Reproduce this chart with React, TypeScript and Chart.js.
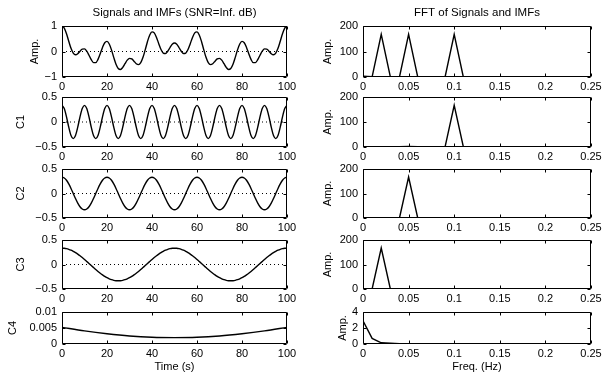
import React, { useEffect, useRef } from 'react';
import { Chart, registerables } from 'chart.js';

Chart.register(...registerables);

// ---------------- data ----------------
const TIME = [
  0, 1, 2, 3, 4, 5, 6, 7, 8, 9, 10, 11, 12, 13, 14, 15, 16, 17, 18, 19, 20,
  21, 22, 23, 24, 25, 26, 27, 28, 29, 30, 31, 32, 33, 34, 35, 36, 37, 38, 39, 40,
  41, 42, 43, 44, 45, 46, 47, 48, 49, 50, 51, 52, 53, 54, 55, 56, 57, 58, 59, 60,
  61, 62, 63, 64, 65, 66, 67, 68, 69, 70, 71, 72, 73, 74, 75, 76, 77, 78, 79, 80,
  81, 82, 83, 84, 85, 86, 87, 88, 89, 90, 91, 92, 93, 94, 95, 96, 97, 98, 99, 100,
];

const SIGNAL = [
  1.004, 0.918, 0.696, 0.403, 0.125, -0.063, -0.130, -0.087, 0.012, 0.095,
  0.103, 0.015, -0.146, -0.320, -0.435, -0.436, -0.309, -0.086, 0.161, 0.344,
  0.396, 0.295, 0.063, -0.230, -0.498, -0.666, -0.704, -0.622, -0.477, -0.339,
  -0.270, -0.290, -0.379, -0.478, -0.515, -0.436, -0.229, 0.072, 0.394, 0.649,
  0.769, 0.729, 0.552, 0.305, 0.076, -0.063, -0.081, 0.011, 0.156, 0.284,
  0.333,
  0.284, 0.156, 0.011, -0.081, -0.063, 0.076, 0.305, 0.552, 0.729, 0.769,
  0.649, 0.394, 0.072, -0.229, -0.436, -0.515, -0.478, -0.379, -0.290, -0.270,
  -0.339, -0.477, -0.622, -0.704, -0.666, -0.498, -0.230, 0.063, 0.295, 0.396,
  0.344, 0.161, -0.086, -0.309, -0.436, -0.435, -0.320, -0.146, 0.015, 0.103,
  0.095, 0.012, -0.087, -0.130, -0.063, 0.125, 0.403, 0.696, 0.918, 1.004,
];

const IMF1 = [
  0.333, 0.270, 0.103, -0.103, -0.270, -0.333, -0.270, -0.103, 0.103, 0.270,
  0.333, 0.270, 0.103, -0.103, -0.270, -0.333, -0.270, -0.103, 0.103, 0.270,
  0.333, 0.270, 0.103, -0.103, -0.270, -0.333, -0.270, -0.103, 0.103, 0.270,
  0.333, 0.270, 0.103, -0.103, -0.270, -0.333, -0.270, -0.103, 0.103, 0.270,
  0.333, 0.270, 0.103, -0.103, -0.270, -0.333, -0.270, -0.103, 0.103, 0.270,
  0.333, 0.270, 0.103, -0.103, -0.270, -0.333, -0.270, -0.103, 0.103, 0.270,
  0.333, 0.270, 0.103, -0.103, -0.270, -0.333, -0.270, -0.103, 0.103, 0.270,
  0.333, 0.270, 0.103, -0.103, -0.270, -0.333, -0.270, -0.103, 0.103, 0.270,
  0.333, 0.270, 0.103, -0.103, -0.270, -0.333, -0.270, -0.103, 0.103, 0.270,
  0.333, 0.270, 0.103, -0.103, -0.270, -0.333, -0.270, -0.103, 0.103, 0.270,
  0.333,
];

const IMF2 = [
  0.333, 0.317, 0.270, 0.196, 0.103, 0, -0.103, -0.196, -0.270, -0.317,
  -0.333, -0.317, -0.270, -0.196, -0.103, 0, 0.103, 0.196, 0.270, 0.317,
  0.333, 0.317, 0.270, 0.196, 0.103, 0, -0.103, -0.196, -0.270, -0.317,
  -0.333, -0.317, -0.270, -0.196, -0.103, 0, 0.103, 0.196, 0.270, 0.317,
  0.333, 0.317, 0.270, 0.196, 0.103, 0, -0.103, -0.196, -0.270, -0.317,
  -0.333, -0.317, -0.270, -0.196, -0.103, 0, 0.103, 0.196, 0.270, 0.317,
  0.333, 0.317, 0.270, 0.196, 0.103, 0, -0.103, -0.196, -0.270, -0.317,
  -0.333, -0.317, -0.270, -0.196, -0.103, 0, 0.103, 0.196, 0.270, 0.317,
  0.333, 0.317, 0.270, 0.196, 0.103, 0, -0.103, -0.196, -0.270, -0.317,
  -0.333, -0.317, -0.270, -0.196, -0.103, 0, 0.103, 0.196, 0.270, 0.317,
  0.333,
];

const IMF3 = [
  0.333, 0.331, 0.323, 0.310, 0.292, 0.270, 0.243, 0.212, 0.179, 0.142,
  0.103, 0.062, 0.021, -0.021, -0.062, -0.103, -0.142, -0.179, -0.212, -0.243,
  -0.270, -0.292, -0.310, -0.323, -0.331, -0.333, -0.331, -0.323, -0.310, -0.292,
  -0.270, -0.243, -0.212, -0.179, -0.142, -0.103, -0.062, -0.021, 0.021, 0.062,
  0.103, 0.142, 0.179, 0.212, 0.243, 0.270, 0.292, 0.310, 0.323, 0.331,
  0.333, 0.331, 0.323, 0.310, 0.292, 0.270, 0.243, 0.212, 0.179, 0.142,
  0.103, 0.062, 0.021, -0.021, -0.062, -0.103, -0.142, -0.179, -0.212, -0.243,
  -0.270, -0.292, -0.310, -0.323, -0.331, -0.333, -0.331, -0.323, -0.310, -0.292,
  -0.270, -0.243, -0.212, -0.179, -0.142, -0.103, -0.062, -0.021, 0.021, 0.062,
  0.103, 0.142, 0.179, 0.212, 0.243, 0.270, 0.292, 0.310, 0.323, 0.331,
  0.333,
];

const IMF4_TIME = [0, 10, 20, 30, 40, 50, 60, 70, 80, 90, 100];
const IMF4 = [0.0052, 0.0041, 0.0032, 0.0025, 0.0021, 0.0020, 0.0021, 0.0025, 0.0032, 0.0041, 0.0052];

const FREQ = [
  0, 0.01, 0.02, 0.03, 0.04, 0.05, 0.06, 0.07, 0.08, 0.09, 0.1, 0.11, 0.12,
  0.13, 0.14, 0.15, 0.16, 0.17, 0.18, 0.19, 0.2, 0.21, 0.22, 0.23, 0.24, 0.25,
];
const FFT_SIGNAL = [2.9, 0.7, 167, 0.2, 0.1, 167, 0.1, 0, 0, 0, 167, 0, 0, 0, 0, 0, 0, 0, 0, 0, 0, 0, 0, 0, 0, 0];
const FFT_C1 = [0, 0, 0, 0.3, 1, 2.5, 1, 1, 1, 0.5, 167, 1, 0.5, 0, 0.5, 1.5, 1, 0, 0, 0, 0, 0, 0, 0, 0, 0];
const FFT_C2 = [0, 0, 0, 0, 0, 167, 0, 0, 0, 0, 0, 0, 0, 0, 0, 0, 0, 0, 0, 0, 0, 0, 0, 0, 0, 0];
const FFT_C3 = [0, 0, 167, 0, 0, 0, 0, 0, 0, 0, 0, 0, 0, 0, 0, 0, 0, 0, 0, 0, 0, 0, 0, 0, 0, 0];
const FFT_C4 = [2.9, 0.7, 0.15, 0.1, 0.05, 0.03, 0.02, 0.01, 0, 0, 0, 0, 0, 0, 0, 0, 0, 0, 0, 0, 0, 0, 0, 0, 0, 0];

// ticks and labels
const TIME_TICKS = [0, 20, 40, 60, 80, 100];
const TIME_TICK_LABELS = ['0', '20', '40', '60', '80', '100'];
const FREQ_TICKS = [0, 0.05, 0.1, 0.15, 0.2, 0.25];
const FREQ_TICK_LABELS = ['0', '0.05', '0.1', '0.15', '0.2', '0.25'];

const LEFT_TITLE = 'Signals and IMFs (SNR=Inf. dB)';
const RIGHT_TITLE = 'FFT of Signals and IMFs';
const LEFT_XLABEL = 'Time (s)';
const RIGHT_XLABEL = 'Freq. (Hz)';
const LEFT_YLABELS = ['Amp.', 'C1', 'C2', 'C3', 'C4'];
const RIGHT_YLABELS = ['Amp.', 'Amp.', 'Amp.', 'Amp.', 'Amp.'];

const LEFT_Y_RANGE = [[-1, 1], [-0.5, 0.5], [-0.5, 0.5], [-0.5, 0.5], [0, 0.01]];
const LEFT_Y_TICKS = [[-1, 0, 1], [-0.5, 0, 0.5], [-0.5, 0, 0.5], [-0.5, 0, 0.5], [0, 0.005, 0.01]];
const LEFT_Y_TICK_LABELS = [
  ['\u22121', '0', '1'],
  ['\u22120.5', '0', '0.5'],
  ['\u22120.5', '0', '0.5'],
  ['\u22120.5', '0', '0.5'],
  ['0', '0.005', '0.01'],
];
const RIGHT_Y_RANGE = [[0, 200], [0, 200], [0, 200], [0, 200], [0, 4]];
const RIGHT_Y_TICKS = [[0, 100, 200], [0, 100, 200], [0, 100, 200], [0, 100, 200], [0, 2, 4]];
const RIGHT_Y_TICK_LABELS = [
  ['0', '100', '200'],
  ['0', '100', '200'],
  ['0', '100', '200'],
  ['0', '100', '200'],
  ['0', '2', '4'],
];

const LEFT_SERIES_X = [TIME, TIME, TIME, TIME, IMF4_TIME];
const LEFT_SERIES_Y = [SIGNAL, IMF1, IMF2, IMF3, IMF4];
const RIGHT_SERIES_Y = [FFT_SIGNAL, FFT_C1, FFT_C2, FFT_C3, FFT_C4];
const LEFT_ZERO_LINE = [true, true, true, true, false];

// ---------------- layout ----------------
const W = 612;
const H = 378;
const ROW_TOP = [26, 97, 169, 240, 312];
const ROW_BOTTOM = [77, 147, 218, 289, 344];
const COL_LEFT = [62, 363];
const COL_RIGHT = [287, 591];
const COL_CANVAS_LEFT = [0, 300];
const YLABEL_CENTER_X = [
  [35, 21, 21, 21, 13],
  [328, 328, 328, 328, 343],
];
const XLABEL_CENTER_Y = 367;
const TITLE_CENTER_Y = 13;
const FAMILY = "'Liberation Sans', Arial, Helvetica, sans-serif";
const FS = 11;
const LH = 1.2;
const TICK_LEN = 3;

const framePlugin = {
  id: 'matlabFrame',
  afterDatasetsDraw(chart: any) {
    const { ctx, chartArea: a, scales } = chart;
    const xs = scales.x;
    const ys = scales.y;
    const L = Math.round(a.left) + 0.5;
    const R = Math.round(a.right) - 0.5;
    const T = Math.round(a.top) + 0.5;
    const B = Math.round(a.bottom) - 0.5;
    ctx.save();
    ctx.strokeStyle = '#000';
    ctx.lineWidth = 1;
    ctx.setLineDash([]);
    ctx.beginPath();
    ctx.rect(L, T, R - L, B - T);
    xs.ticks.forEach((t: any) => {
      const p = Math.round(xs.getPixelForValue(t.value)) + 0.5;
      ctx.moveTo(p, B);
      ctx.lineTo(p, B - TICK_LEN);
      ctx.moveTo(p, T);
      ctx.lineTo(p, T + TICK_LEN);
    });
    ys.ticks.forEach((t: any) => {
      const p = Math.round(ys.getPixelForValue(t.value)) + 0.5;
      ctx.moveTo(L, p);
      ctx.lineTo(L + TICK_LEN, p);
      ctx.moveTo(R, p);
      ctx.lineTo(R - TICK_LEN, p);
    });
    ctx.stroke();
    ctx.restore();
  },
};

function Panel({ col, row }: { col: number; row: number }) {
  const ref = useRef<HTMLCanvasElement | null>(null);

  const plotL = COL_LEFT[col];
  const plotR = COL_RIGHT[col];
  const plotT = ROW_TOP[row];
  const plotB = ROW_BOTTOM[row];
  const canvasLeft = COL_CANVAS_LEFT[col];
  const canvasTop = row === 0 ? 0 : plotT - 12;
  const canvasBottom = row === 4 ? H : plotB + 20;
  const padRight = 18;
  const cw = plotR + padRight - canvasLeft;
  const ch = canvasBottom - canvasTop;

  useEffect(() => {
    if (!ref.current) return;
    const isLeft = col === 0;
    const xTicks = isLeft ? TIME_TICKS : FREQ_TICKS;
    const xLabels = isLeft ? TIME_TICK_LABELS : FREQ_TICK_LABELS;
    const yRange = isLeft ? LEFT_Y_RANGE[row] : RIGHT_Y_RANGE[row];
    const yTicks = isLeft ? LEFT_Y_TICKS[row] : RIGHT_Y_TICKS[row];
    const yLabels = isLeft ? LEFT_Y_TICK_LABELS[row] : RIGHT_Y_TICK_LABELS[row];
    const yTitle = isLeft ? LEFT_YLABELS[row] : RIGHT_YLABELS[row];
    const font = { family: FAMILY, size: FS, lineHeight: LH };
    const lh = FS * LH;

    const datasets: any[] = [];
    if (isLeft) {
      if (LEFT_ZERO_LINE[row]) {
        datasets.push({
          data: [
            { x: TIME[0], y: 0 },
            { x: TIME[TIME.length - 1], y: 0 },
          ],
          borderColor: '#000',
          borderWidth: 1,
          borderDash: [1, 3],
          pointRadius: 0,
          tension: 0,
        });
      }
      const xs = LEFT_SERIES_X[row];
      const ys = LEFT_SERIES_Y[row];
      datasets.push({
        data: xs.map((x, i) => ({ x, y: ys[i] })),
        borderColor: '#000',
        borderWidth: 1.4,
        pointRadius: 0,
        cubicInterpolationMode: 'monotone',
      });
    } else {
      const ys = RIGHT_SERIES_Y[row];
      datasets.push({
        data: FREQ.map((x, i) => ({ x, y: ys[i] })),
        borderColor: '#000',
        borderWidth: 1.4,
        pointRadius: 0,
        tension: 0,
      });
    }

    const titleFontSize = 11.5;
    const titleLH = titleFontSize * LH;
    const titlePadTop = TITLE_CENTER_Y - titleLH / 2;
    const titlePadBottom = plotT - titlePadTop - titleLH;

    const chart = new Chart(ref.current, {
      type: 'line',
      data: { datasets },
      options: {
        responsive: false,
        maintainAspectRatio: false,
        animation: false,
        devicePixelRatio: 1,
        layout: {
          padding: { left: 0, right: padRight, top: row === 0 ? 0 : plotT - canvasTop, bottom: 0 },
        },
        plugins: {
          legend: { display: false },
          tooltip: { enabled: false },
          title: {
            display: row === 0,
            text: isLeft ? LEFT_TITLE : RIGHT_TITLE,
            fullSize: false,
            color: '#000',
            font: { family: FAMILY, size: titleFontSize, lineHeight: LH, weight: 'normal' },
            padding: { top: titlePadTop, bottom: titlePadBottom },
          },
        },
        scales: {
          x: {
            type: 'linear',
            position: 'bottom',
            min: xTicks[0],
            max: xTicks[xTicks.length - 1],
            grid: { display: false, drawTicks: false },
            border: { display: false },
            ticks: {
              autoSkip: false,
              maxRotation: 0,
              minRotation: 0,
              padding: 3,
              color: '#000',
              font,
              callback: (_v: any, i: number) => xLabels[i],
            },
            afterBuildTicks: (s: any) => {
              s.ticks = xTicks.map((v) => ({ value: v }));
            },
            afterFit: (s: any) => {
              s.height = canvasBottom - plotB;
            },
            title: {
              display: row === 4,
              text: isLeft ? LEFT_XLABEL : RIGHT_XLABEL,
              color: '#000',
              font,
              padding: { top: 0, bottom: H - XLABEL_CENTER_Y - lh / 2 },
            },
          },
          y: {
            type: 'linear',
            position: 'left',
            min: yRange[0],
            max: yRange[1],
            grid: { display: false, drawTicks: false },
            border: { display: false },
            ticks: {
              autoSkip: false,
              padding: 5,
              color: '#000',
              font,
              callback: (_v: any, i: number) => yLabels[i],
            },
            afterBuildTicks: (s: any) => {
              s.ticks = yTicks.map((v) => ({ value: v }));
            },
            afterFit: (s: any) => {
              s.width = plotL - canvasLeft;
            },
            title: {
              display: true,
              text: yTitle,
              color: '#000',
              font,
              padding: { top: YLABEL_CENTER_X[col][row] - canvasLeft - lh / 2, bottom: 0 },
            },
          },
        },
      },
      plugins: [framePlugin],
    } as any);
    return () => chart.destroy();
  }, [col, row]);

  return (
    <canvas
      ref={ref}
      width={cw}
      height={ch}
      style={{ position: 'absolute', left: canvasLeft, top: canvasTop, width: cw, height: ch, display: 'block' }}
    />
  );
}

export default function App() {
  const rows = [0, 1, 2, 3, 4];
  return (
    <div
      style={{
        position: 'fixed',
        left: 0,
        top: 0,
        width: W,
        height: H,
        background: '#fff',
        overflow: 'hidden',
      }}
    >
      {rows.map((r) => (
        <Panel key={'l' + r} col={0} row={r} />
      ))}
      {rows.map((r) => (
        <Panel key={'r' + r} col={1} row={r} />
      ))}
    </div>
  );
}
